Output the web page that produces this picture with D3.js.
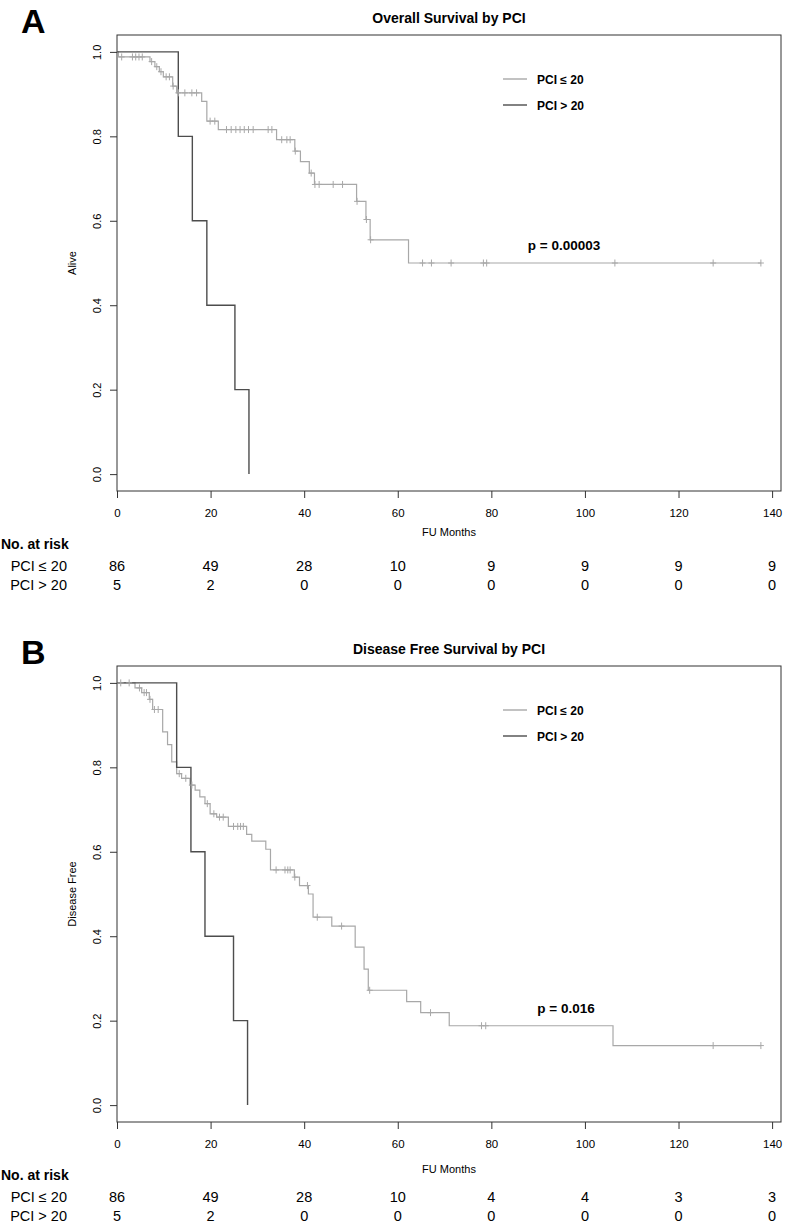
<!DOCTYPE html>
<html>
<head>
<meta charset="utf-8">
<script src="https://cdn.jsdelivr.net/npm/d3@7"></script>
<style>
  body { margin: 0; background: #fff; }
  text { font-family: "Liberation Sans", Arial, Helvetica, sans-serif; }
</style>
</head>
<body>
<svg id="chart" width="787" height="1223"></svg>
<script>
// ---- data ----
var xTicks = [0, 20, 40, 60, 80, 100, 120, 140];
var yTicks = [0, 0.2, 0.4, 0.6, 0.8, 1.0];

// Overall survival, PCI <= 20
var osLowTime = [0, 0.3, 7.05, 8.1, 9.05, 9.9, 11.9, 12.75, 18.1, 19.2, 21.65, 34.1, 38.0, 39.2, 41.1, 42.2, 51.2, 53.2, 54.1, 62.3, 137.6];
var osLowSurv = [1, 0.988, 0.977, 0.965, 0.953, 0.941, 0.919, 0.903, 0.883, 0.836, 0.816, 0.792, 0.765, 0.740, 0.713, 0.686, 0.646, 0.603, 0.555, 0.500, 0.500];
var osLowCens = [1.0, 3.3, 4.0, 4.7, 5.4, 7.4, 8.5, 9.4, 10.5, 11.2, 12.0, 13.1, 14.5, 16.0, 17.0, 19.9, 20.9,
                 23.4, 24.4, 25.4, 26.3, 27.2, 28.1, 29.1, 32.3, 33.1, 35.2, 36.3, 37.0, 38.1, 41.5, 42.3, 43.2,
                 46.2, 48.2, 51.3, 53.3, 54.2, 65.3, 67.2, 71.4, 78.3, 79.0, 106.4, 127.4, 137.6];
// Overall survival, PCI > 20
var osHighTime = [0, 13.1, 16.1, 19.2, 25.2, 28.2];
var osHighSurv = [1, 0.8, 0.6, 0.4, 0.2, 0];

// Disease free survival, PCI <= 20
var dfsLowTime = [0, 3.85, 5.27, 6.9, 7.62, 9.76, 10.8, 11.7, 12.75, 13.8, 15.6, 16.7, 17.7, 18.8, 19.9, 21.3, 23.8, 27.7, 28.8, 31.8,
                  32.8, 37.9, 39.0, 40.9, 41.9, 45.9, 50.9, 52.8, 53.7, 61.9, 64.9, 71.0, 106.0, 137.6];
var dfsLowSurv = [1, 0.988, 0.977, 0.961, 0.937, 0.884, 0.854, 0.813, 0.785, 0.774, 0.758, 0.746, 0.730, 0.714, 0.690, 0.682, 0.660, 0.641, 0.625, 0.606,
                  0.557, 0.540, 0.520, 0.500, 0.445, 0.424, 0.374, 0.322, 0.272, 0.245, 0.219, 0.188, 0.141, 0.141];
var dfsLowCens = [0.8, 2.6, 4.8, 5.8, 6.3, 7.05, 8.0, 8.8, 13.3, 14.7, 16.0, 19.3, 20.7, 21.9, 22.7, 24.9, 25.8, 26.4, 27.0,
                  34.0, 35.9, 36.5, 37.0, 38.0, 40.7, 42.8, 48.0, 54.0, 67.0, 77.9, 78.8, 127.4, 137.6];
// Disease free survival, PCI > 20
var dfsHighTime = [0, 12.75, 15.8, 18.8, 24.9, 27.9];
var dfsHighSurv = [1, 0.8, 0.6, 0.4, 0.2, 0];

var groups = ["PCI \u2264 20", "PCI > 20"];
var osRiskLow = [86, 49, 28, 10, 9, 9, 9, 9];
var osRiskHigh = [5, 2, 0, 0, 0, 0, 0, 0];
var dfsRiskLow = [86, 49, 28, 10, 4, 4, 3, 3];
var dfsRiskHigh = [5, 2, 0, 0, 0, 0, 0, 0];

var lowColor = "#a8a8a8", highColor = "#4d4d4d";

var svg = d3.select("#chart");

function survAt(times, surv, t) {
    var v = surv[0];
    for (var i = 0; i < times.length; i++) {
        if (times[i] <= t) v = surv[i];
    }
    return v;
}

function panel(o) {
    var top = o.top;
    var x = d3.scaleLinear().domain([0, 141.9]).range([117, 781]);
    var y = d3.scaleLinear().domain([-0.04, 1.04]).range([top + 456, top]);
    var g = svg.append("g");

    g.append("text").attr("x", 21).attr("y", top - 2)
        .style("font-size", "34px").style("font-weight", "bold").text(o.letter);
    g.append("text").attr("x", 449).attr("y", top - 12).attr("text-anchor", "middle")
        .style("font-size", "14px").style("font-weight", "bold").text(o.title);

    // axes
    var xa = g.append("g").attr("transform", "translate(0," + (top + 456) + ")")
        .call(d3.axisBottom(x).tickValues(xTicks).tickSize(7).tickFormat(d3.format("d")));
    xa.select(".domain").remove();
    xa.selectAll("line").attr("stroke", "#333");
    xa.selectAll("text").attr("y", 0).attr("dy", 0).attr("transform", "translate(0,26)")
        .style("font-size", "11.5px").style("font-family", "Liberation Sans, Arial");

    var ya = g.append("g").attr("transform", "translate(117,0)")
        .call(d3.axisLeft(y).tickValues(yTicks).tickSize(7).tickFormat(d3.format(".1f")));
    ya.select(".domain").remove();
    ya.selectAll("line").attr("stroke", "#333");
    ya.selectAll("text").attr("x", 0).attr("dy", 0).attr("text-anchor", "middle")
        .attr("transform", "translate(-16,0) rotate(-90)")
        .style("font-size", "11px").style("font-family", "Liberation Sans, Arial");

    g.append("rect").attr("x", 117).attr("y", top).attr("width", 781 - 117).attr("height", 456)
        .attr("fill", "none").attr("stroke", "#333").attr("stroke-width", 1);

    g.append("text").attr("transform", "translate(76," + (top + 228) + ") rotate(-90)")
        .attr("text-anchor", "middle").style("font-size", "11px").text(o.ylab);
    g.append("text").attr("x", 449).attr("y", top + 456 + o.fuOff).attr("text-anchor", "middle")
        .style("font-size", "11px").text("FU Months");

    // curves
    var line = d3.line().x(function (d) { return x(d[0]); }).y(function (d) { return y(d[1]); })
        .curve(d3.curveStepAfter);
    var lowPts = d3.zip(o.lowTime, o.lowSurv);
    var highPts = d3.zip(o.highTime, o.highSurv);
    g.append("path").attr("d", line(lowPts)).attr("fill", "none").attr("stroke", lowColor).attr("stroke-width", 1.2);
    g.append("path").attr("d", line(highPts)).attr("fill", "none").attr("stroke", highColor).attr("stroke-width", 1.4);

    g.selectAll(".cens").data(o.lowCens).enter().append("path")
        .attr("d", function (t) {
            var cx = x(t), cy = y(survAt(o.lowTime, o.lowSurv, t));
            return "M" + (cx - 3) + "," + cy + "H" + (cx + 3) + "M" + cx + "," + (cy - 3.5) + "V" + (cy + 3.5);
        })
        .attr("stroke", lowColor).attr("stroke-width", 1).attr("fill", "none");

    // legend
    var lg = [{ name: groups[0], c: lowColor, y: o.legY }, { name: groups[1], c: highColor, y: o.legY + 26 }];
    lg.forEach(function (d) {
        g.append("line").attr("x1", 503).attr("x2", 527).attr("y1", d.y).attr("y2", d.y)
            .attr("stroke", d.c).attr("stroke-width", 1.4);
        g.append("text").attr("x", 537).attr("y", d.y + 4.5)
            .style("font-size", "12px").style("font-weight", "bold").text(d.name);
    });

    g.append("text").attr("x", o.pX).attr("y", o.pY + 5).attr("text-anchor", "middle")
        .style("font-size", "13.5px").style("font-weight", "bold").text(o.pText);

    // number at risk table
    var rt = top + 456;
    g.append("text").attr("x", 1).attr("y", rt + 58)
        .style("font-size", "14px").style("font-weight", "bold").text("No. at risk");
    [o.riskLow, o.riskHigh].forEach(function (row, i) {
        var yy = rt + 80 + i * 19;
        g.append("text").attr("x", 67).attr("y", yy).attr("text-anchor", "end")
            .style("font-size", "14.5px").text(groups[i]);
        g.selectAll(".r" + i).data(row).enter().append("text")
            .attr("x", function (d, j) { return x(xTicks[j]); }).attr("y", yy)
            .attr("text-anchor", "middle").style("font-size", "14.5px").text(function (d) { return d; });
    });
}

panel({
    top: 35, letter: "A", title: "Overall Survival by PCI", ylab: "Alive",
    lowTime: osLowTime, lowSurv: osLowSurv, lowCens: osLowCens,
    highTime: osHighTime, highSurv: osHighSurv,
    legY: 79, pX: 564, pY: 245, pText: "p = 0.00003", fuOff: 45,
    riskLow: osRiskLow, riskHigh: osRiskHigh
});
panel({
    top: 666, letter: "B", title: "Disease Free Survival by PCI", ylab: "Disease Free",
    lowTime: dfsLowTime, lowSurv: dfsLowSurv, lowCens: dfsLowCens,
    highTime: dfsHighTime, highSurv: dfsHighSurv,
    legY: 710, pX: 566, pY: 1008, pText: "p = 0.016", fuOff: 51,
    riskLow: dfsRiskLow, riskHigh: dfsRiskHigh
});
</script>
</body>
</html>
